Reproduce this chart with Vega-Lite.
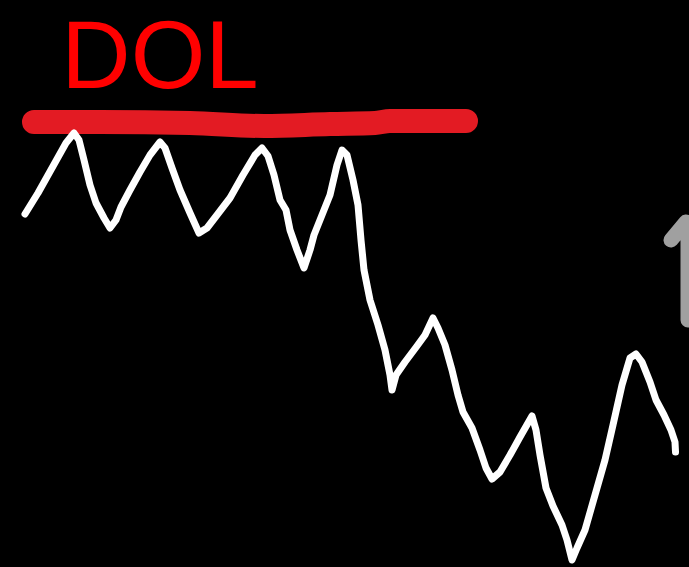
{
  "$schema": "https://vega.github.io/schema/vega-lite/v6.json",
  "width": 689,
  "height": 567,
  "autosize": {"type": "fit", "contains": "padding"},
  "padding": 0,
  "background": "#000000",
  "config": {"view": {"stroke": null}},
  "datasets": {
    "price": [
      {"t":25,"p":353},{"t":38,"p":374},{"t":52,"p":399},{"t":66,"p":424},{"t":74,"p":434},{"t":79,"p":427},{"t":84,"p":407},{"t":90,"p":382},{"t":96,"p":364},{"t":104,"p":349},{"t":110,"p":339},{"t":116,"p":347},{"t":121,"p":360},{"t":130,"p":377},{"t":140,"p":395},{"t":150,"p":412},{"t":160,"p":425},{"t":165,"p":419},{"t":172,"p":399},{"t":180,"p":377},{"t":190,"p":354},{"t":199,"p":334},{"t":207,"p":339},{"t":217,"p":352},{"t":230,"p":369},{"t":243,"p":392},{"t":255,"p":412},{"t":262,"p":419},{"t":268,"p":411},{"t":274,"p":392},{"t":280,"p":367},{"t":286,"p":357},{"t":290,"p":337},{"t":297,"p":317},{"t":304,"p":299},{"t":310,"p":317},{"t":314,"p":332},{"t":322,"p":352},{"t":330,"p":372},{"t":337,"p":402},{"t":342,"p":417},{"t":347,"p":412},{"t":353,"p":387},{"t":358,"p":362},{"t":361,"p":327},{"t":364,"p":297},{"t":370,"p":267},{"t":378,"p":242},{"t":385,"p":217},{"t":390,"p":192},{"t":392,"p":177},{"t":396,"p":192},{"t":405,"p":205},{"t":417,"p":221},{"t":425,"p":232},{"t":433,"p":249},{"t":438,"p":239},{"t":445,"p":222},{"t":452,"p":197},{"t":458,"p":172},{"t":463,"p":155},{"t":472,"p":139},{"t":480,"p":117},{"t":486,"p":99},{"t":492,"p":88},{"t":500,"p":95},{"t":510,"p":112},{"t":520,"p":130},{"t":532,"p":151},{"t":536,"p":137},{"t":540,"p":112},{"t":546,"p":79},{"t":553,"p":61},{"t":562,"p":42},{"t":567,"p":27},{"t":572,"p":7},{"t":577,"p":19},{"t":585,"p":37},{"t":595,"p":72},{"t":605,"p":107},{"t":613,"p":142},{"t":622,"p":182},{"t":630,"p":209},{"t":636,"p":213},{"t":642,"p":205},{"t":650,"p":185},{"t":656,"p":167},{"t":664,"p":152},{"t":671,"p":137},{"t":675,"p":125},{"t":675.5,"p":115}
    ],
    "level": [
      {"t":34,"p":445},{"t":100,"p":445},{"t":190,"p":444},{"t":264,"p":441},{"t":330,"p":443},{"t":375,"p":444},{"t":390,"p":446},{"t":466,"p":446}
    ],
    "label": [{"t":160,"p":508,"text":"DOL"}],
    "side": [
      {"i":1,"t":671,"p":327},{"i":2,"t":686,"p":345},{"i":3,"t":688,"p":335},{"i":4,"t":688,"p":247}
    ]
  },
  "layer": [
    {
      "data": {"name": "level"},
      "mark": {"type": "line", "color": "#e31b23", "strokeWidth": 24, "strokeCap": "round", "strokeJoin": "round", "interpolate": "monotone"},
      "encoding": {
        "x": {"field": "t", "type": "quantitative", "scale": {"domain": [0, 689]}, "axis": null},
        "y": {"field": "p", "type": "quantitative", "scale": {"domain": [0, 567]}, "axis": null}
      }
    },
    {
      "data": {"name": "price"},
      "mark": {"type": "line", "color": "#ffffff", "strokeWidth": 7, "strokeCap": "round", "strokeJoin": "round"},
      "encoding": {
        "x": {"field": "t", "type": "quantitative", "scale": {"domain": [0, 689]}, "axis": null},
        "y": {"field": "p", "type": "quantitative", "scale": {"domain": [0, 567]}, "axis": null},
        "order": {"field": "t", "type": "quantitative"}
      }
    },
    {
      "data": {"name": "side"},
      "mark": {"type": "line", "color": "#a0a0a0", "strokeWidth": 15, "strokeCap": "round", "strokeJoin": "round", "clip": true},
      "encoding": {
        "x": {"field": "t", "type": "quantitative", "scale": {"domain": [0, 689]}, "axis": null},
        "y": {"field": "p", "type": "quantitative", "scale": {"domain": [0, 567]}, "axis": null},
        "order": {"field": "i", "type": "quantitative"}
      }
    },
    {
      "data": {"name": "label"},
      "mark": {"type": "text", "color": "#ff0000", "font": "Liberation Sans", "fontSize": 96, "align": "center", "baseline": "middle"},
      "encoding": {
        "x": {"field": "t", "type": "quantitative", "scale": {"domain": [0, 689]}, "axis": null},
        "y": {"field": "p", "type": "quantitative", "scale": {"domain": [0, 567]}, "axis": null},
        "text": {"field": "text"}
      }
    }
  ]
}
